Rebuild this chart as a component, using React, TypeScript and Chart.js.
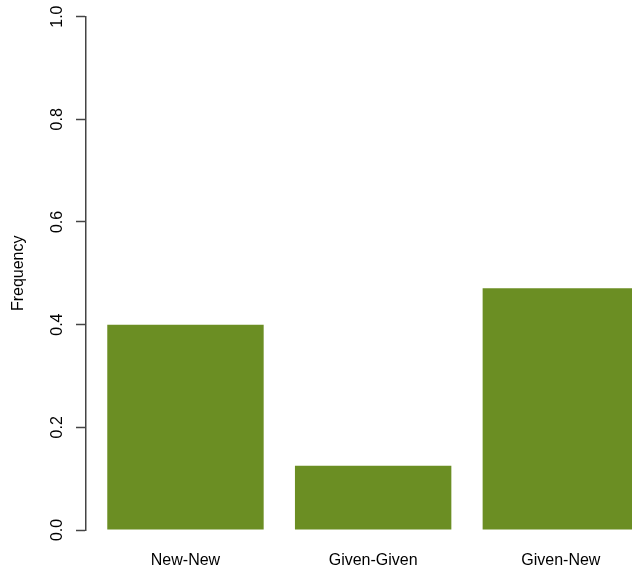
import React, { useEffect, useRef } from "react";
import { Chart, registerables } from "chart.js";

Chart.register(...registerables);

const categories = ["New-New", "Given-Given", "Given-New"];
const frequencies = [0.4, 0.125, 0.471];
// bar centres in R barplot units (width 1, space 0.2)
const barCenters = [0.7, 1.9, 3.1];
const yTicks = [0, 0.2, 0.4, 0.6, 0.8, 1.0];

export default function App() {
  const ref = useRef<HTMLCanvasElement | null>(null);

  useEffect(() => {
    if (!ref.current) return;
    const chart = new Chart(ref.current, {
      type: "bar",
      data: {
        datasets: [
          {
            label: "Frequency",
            data: barCenters.map((x, i) => ({ x, y: frequencies[i] })),
            backgroundColor: "#6B8E23",
            borderWidth: 0,
            categoryPercentage: 1,
            barPercentage: 1 / 1.2,
          },
        ],
      },
      options: {
        animation: false,
        responsive: false,
        maintainAspectRatio: false,
        layout: { padding: { top: 16, right: 0, bottom: 0, left: 0 } },
        plugins: { legend: { display: false }, tooltip: { enabled: false } },
        scales: {
          x: {
            type: "linear",
            offset: false,
            min: 0.064,
            max: 0.064 + 546 / 156.4,
            grid: { display: false, drawTicks: false },
            border: { display: false },
            afterBuildTicks: (scale: any) => {
              scale.ticks = barCenters.map((v) => ({ value: v }));
            },
            afterFit: (scale: any) => {
              scale.height = 44;
            },
            ticks: {
              autoSkip: false,
              maxRotation: 0,
              minRotation: 0,
              padding: 21,
              color: "#000",
              font: { family: "'Liberation Sans', Arial, sans-serif", size: 16 },
              callback: (v: any) => {
                const i = barCenters.indexOf(Number(v));
                return i >= 0 ? categories[i] : "";
              },
            },
          },
          y: {
            type: "linear",
            min: 0,
            max: 1,
            afterBuildTicks: (scale: any) => {
              scale.ticks = yTicks.map((v) => ({ value: v }));
            },
            afterFit: (scale: any) => {
              scale.width = 86;
            },
            grid: {
              display: true,
              drawOnChartArea: false,
              drawTicks: true,
              tickLength: 10,
              tickColor: "#444",
              tickWidth: 1.5,
            },
            border: { display: true, color: "#444", width: 1.5 },
            ticks: {
              minRotation: 90,
              maxRotation: 90,
              crossAlign: "center",
              padding: 7,
              color: "#000",
              font: { family: "'Liberation Sans', Arial, sans-serif", size: 16 },
              callback: (v: any) => Number(v).toFixed(1),
            },
            title: {
              display: true,
              text: "Frequency",
              color: "#000",
              padding: { top: 9, bottom: 0 },
              font: { family: "'Liberation Sans', Arial, sans-serif", size: 16 },
            },
          },
        },
      },
    });
    return () => chart.destroy();
  }, []);

  return (
    <div style={{ position: "absolute", left: 0, top: 0, width: 632, height: 574, background: "#fff" }}>
      <canvas ref={ref} width={632} height={574} style={{ display: "block", width: 632, height: 574 }} />
    </div>
  );
}
